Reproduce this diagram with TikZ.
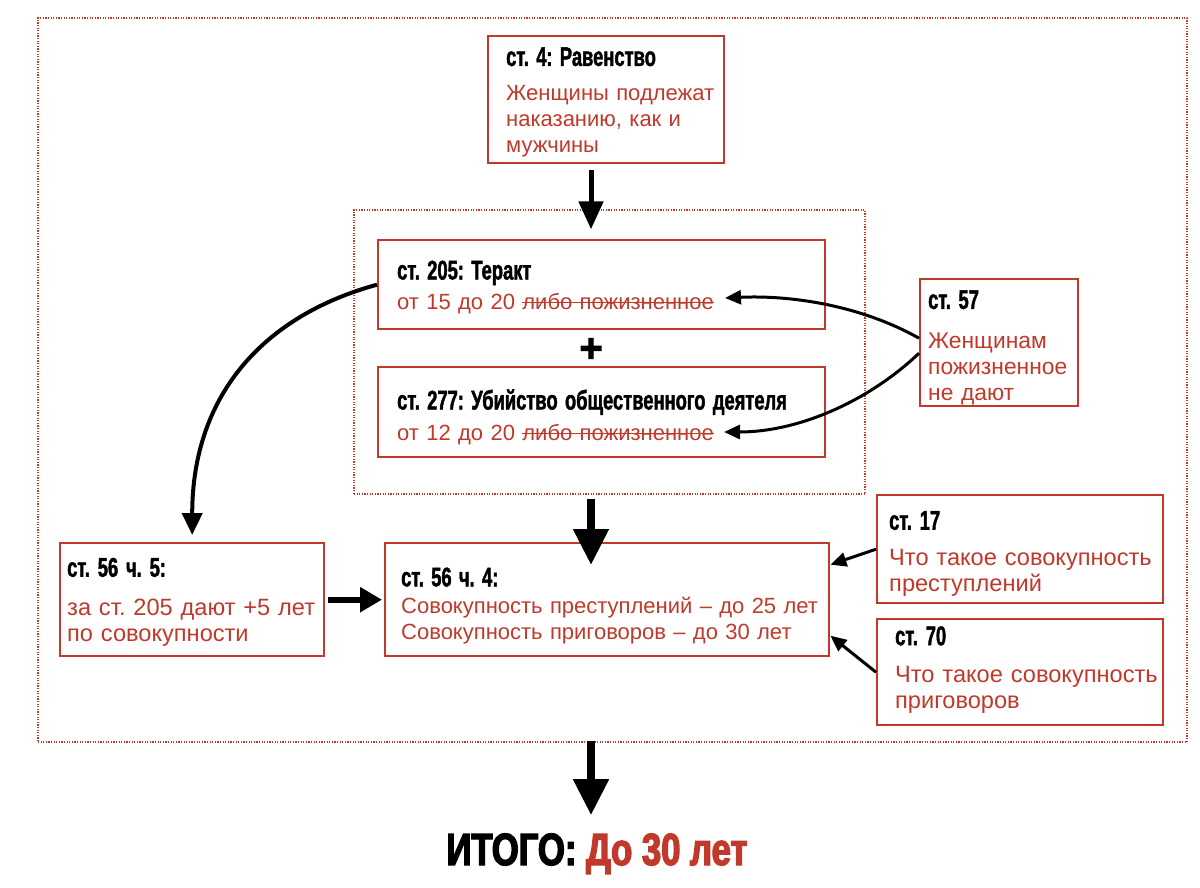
\documentclass[tikz,border=0pt]{standalone}
\usepackage{fontspec}
\setmainfont{Liberation Sans}
\newfontfamily\kopffont{Liberation Sans}[FakeStretch=0.68, FakeBold=1.5]
\newfontfamily\summefont{Liberation Sans}[FakeStretch=0.77, FakeBold=3]
\newfontfamily\plusfont{Liberation Sans}[FakeBold=2.5]
\usetikzlibrary{arrows.meta}
\definecolor{rot}{RGB}{192,57,43}
\newcommand{\titel}[2][12pt]{{\color{black}\kopffont\bfseries\fontsize{13.5}{13}\selectfont\rule{0pt}{#1}#2}}
\newcommand{\zeile}[1]{\mbox{#1}}
\newlength{\durchbreite}
\newcommand{\durch}[1]{\settowidth{\durchbreite}{#1}\rlap{\rule[0.29em]{\durchbreite}{0.6pt}}#1}
\tikzset{
    artikel/.style    = {draw=rot, line width=1.2pt, anchor=north west, align=left,
                         inner ysep=0pt, text=rot, font=\fontsize{11}{13}\selectfont,
                         execute at begin node=\frenchspacing},
    rahmen/.style     = {draw=rot, line width=0.7pt, dash pattern=on 0.6pt off 0.7pt,
                         inner sep=0pt},
    pfeil/.style      = {-{Triangle[width=12pt,length=14pt]}, line width=2.5pt},
    dickpfeil/.style  = {-{Triangle[width=17pt,length=18pt]}, line width=4pt},
    mittelpfeil/.style= {-{Triangle[width=12pt,length=11pt]}, line width=3pt},
    bogen/.style      = {-{Triangle[width=10pt,length=11pt]}, line width=2pt},
    duennpfeil/.style = {-{Triangle[width=7pt,length=8pt]}, line width=1.5pt}
}
\begin{document}
\begin{tikzpicture}[x=0.5pt, y=-0.5pt]
    \path[use as bounding box, fill=white] (0,0) rectangle (1200,888);

    % Rahmen
    \node[rahmen, minimum width=574.5pt, minimum height=362pt] (aussen) at (612.5,380) {};
    \node[rahmen, minimum width=255.5pt, minimum height=142pt] (gruppe) at (609.5,352) {};

    % Artikel
    \node[artikel, text width=100pt, inner xsep=9pt, minimum height=63.5pt] (art4) at (487,35)
        {\titel{ст. 4: Равенство}\\[4.5pt] \zeile{Женщины подлежат}\\ \zeile{наказанию, как и}\\ мужчины};
    \node[artikel, text width=204.5pt, inner xsep=9.5pt, minimum height=44.5pt] (art205) at (377,239)
        {\titel{ст. 205: Теракт}\\[2pt] от 15 до 20 \durch{либо пожизненное}};
    \node[artikel, text width=204.5pt, inner xsep=9.5pt, minimum height=45pt] (art277) at (377,366)
        {\titel[15pt]{ст. 277: Убийство общественного деятеля}\\[2.5pt] от 12 до 20 \durch{либо пожизненное}};
    \node[artikel, text width=71pt, inner xsep=4pt, minimum height=63.5pt,
          font=\fontsize{11.4}{13}\selectfont] (art57) at (919,278)
        {\titel[14.5pt]{ст. 57}\\[7pt] Женщинам\\ \zeile{пожизненное}\\ не дают};
    \node[artikel, text width=125pt, inner xsep=3.5pt, minimum height=56.5pt,
          font=\fontsize{11.8}{13}\selectfont] (art565) at (59,542)
        {\titel{ст. 56 ч. 5:}\\[6.5pt] \zeile{за ст. 205 дают +5 лет}\\ по совокупности};
    \node[artikel, text width=206pt, inner xsep=8pt, minimum height=56.5pt] (art564) at (384,542)
        {\titel[15.5pt]{ст. 56 ч. 4:}\\[0.5pt] \zeile{Совокупность преступлений – до 25 лет}\\ \zeile{Совокупность приговоров – до 30 лет}};
    \node[artikel, text width=131pt, inner xsep=6pt, minimum height=54pt,
          font=\fontsize{11.8}{13}\selectfont] (art17) at (876,494)
        {\titel[14pt]{ст. 17}\\[5pt] \zeile{Что такое совокупность}\\ преступлений};
    \node[artikel, text width=125pt, inner xsep=9pt, minimum height=53pt,
          font=\fontsize{11.8}{13}\selectfont] (art70) at (876,618)
        {\titel{ст. 70}\\[5.5pt] \zeile{Что такое совокупность}\\ приговоров\rule[-7.5pt]{0pt}{1pt}};

    \node[inner sep=0pt, font=\plusfont\bfseries\fontsize{20}{20}\selectfont] (plus) at (591,350) {+};

    % Ergebnis
    \node[anchor=base, inner sep=0pt, font=\summefont\bfseries\fontsize{22.5}{23}\selectfont] (summe) at (597,865)
        {ИТОГО: \textcolor{rot}{До 30 лет}};

    % Pfeile
    \draw[pfeil, shorten <=3pt, shorten >=-10pt] (art4.south -| plus) -- (gruppe.north -| plus);
    \draw[dickpfeil, shorten <=2pt, shorten >=-11.5pt] (gruppe.south -| plus) -- (art564.north -| plus);
    \draw[dickpfeil, shorten <=-1pt, shorten >=9pt] (aussen.south -| plus) -- (summe.north -| plus);
    \draw[bogen, shorten >=3.5pt] (art205.west) .. controls +(-110,30) and +(0,-150) .. (art565.north);
    \draw[mittelpfeil, shorten <=1.5pt, shorten >=1pt] (art565.east) -- (art564.west);

    \coordinate (ende205) at (725,298);
    \coordinate (ende277) at (724,432);
    \draw[duennpfeil] ([yshift=2.25pt]art57.west) .. controls (860,305) and (790,295) .. (ende205);
    \draw[duennpfeil] ([yshift=-5.25pt]art57.west) .. controls (870,400) and (800,432) .. (ende277);
    \draw[duennpfeil] (art17.west) -- ([yshift=17.5pt]art564.east);
    \draw[duennpfeil] (art70.west) -- ([yshift=-18pt]art564.east);
\end{tikzpicture}
\end{document}
